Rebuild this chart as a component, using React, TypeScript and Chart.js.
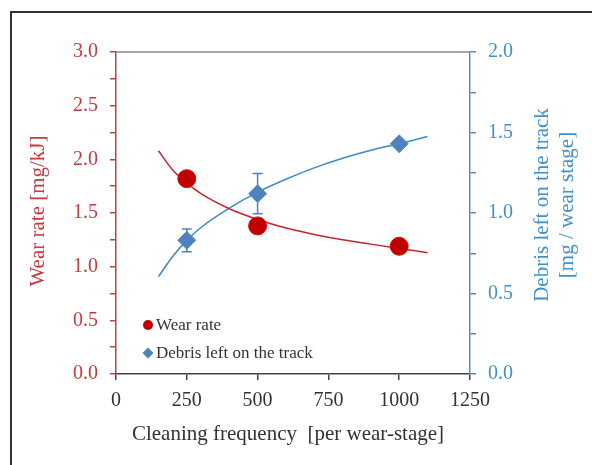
import React, { useEffect, useRef } from "react";
import { Chart, registerables } from "chart.js";

Chart.register(...registerables);

// ---- data ----
const cleaningFreq = [250, 500, 1000];
const wearRate = [1.82, 1.38, 1.19];
const debrisLeft = [0.83, 1.12, 1.43];
const debrisErr = [0.07, 0.125, 0.02];

const fitX = [150, 200, 250, 300, 400, 500, 600, 700, 800, 900, 1000, 1100];
const wearFit = [2.08, 1.9, 1.78, 1.68, 1.54, 1.44, 1.36, 1.3, 1.25, 1.21, 1.17, 1.13];
const debrisFit = [0.605, 0.73, 0.83, 0.91, 1.03, 1.13, 1.21, 1.28, 1.34, 1.39, 1.43, 1.475];

const leftTicks = [0, 0.5, 1, 1.5, 2, 2.5, 3];
const rightTicks = [0, 0.5, 1, 1.5, 2];
const xTicks = [0, 250, 500, 750, 1000, 1250];

const xTitle = "Cleaning frequency  [per wear-stage]";
const leftTitle = "Wear rate [mg/kJ]";
const rightTitle1 = "Debris left on the track";
const rightTitle2 = "[mg / wear stage]";
const legendLabels = ["Wear rate", "Debris left on the track"];

const SERIF = "'Liberation Serif', 'Times New Roman', serif";
const RED_MARK = "#C00000";
const RED_LINE = "#C8242E";
const RED_TEXT = "#C43B3E";
const BLUE_MARK = "#4F81BD";
const BLUE_LINE = "#3D8AC9";
const BLUE_TEXT = "#4090CC";

const decorPlugin = {
  id: "decor",
  beforeDraw(chart: any) {
    const ctx = chart.ctx;
    ctx.save();
    ctx.fillStyle = "#ffffff";
    ctx.fillRect(0, 0, chart.width, chart.height);
    ctx.strokeStyle = "#333333";
    ctx.lineWidth = 2;
    ctx.strokeRect(11, 12, chart.width + 40, chart.height + 40);
    ctx.restore();
  },
  beforeDatasetDraw(chart: any, args: any) {
    if (args.index !== 1) return;
    const ctx = chart.ctx;
    const xs = chart.scales.x;
    const ys = chart.scales.y1;
    ctx.save();
    ctx.strokeStyle = BLUE_MARK;
    ctx.lineWidth = 1.5;
    cleaningFreq.forEach((x, i) => {
      const px = xs.getPixelForValue(x);
      const top = ys.getPixelForValue(debrisLeft[i] + debrisErr[i]);
      const bot = ys.getPixelForValue(debrisLeft[i] - debrisErr[i]);
      ctx.beginPath();
      ctx.moveTo(px, top);
      ctx.lineTo(px, bot);
      ctx.moveTo(px - 5, top);
      ctx.lineTo(px + 5, top);
      ctx.moveTo(px - 5, bot);
      ctx.lineTo(px + 5, bot);
      ctx.stroke();
    });
    ctx.restore();
  },
  afterDraw(chart: any) {
    const ctx = chart.ctx;
    const a = chart.chartArea;
    ctx.save();
    // top frame line of plot
    ctx.strokeStyle = "#8a8a8a";
    ctx.lineWidth = 1.5;
    ctx.beginPath();
    ctx.moveTo(a.left, a.top);
    ctx.lineTo(a.right, a.top);
    ctx.stroke();

    // axis titles
    ctx.font = `21px ${SERIF}`;
    ctx.textAlign = "center";
    ctx.textBaseline = "middle";
    ctx.fillStyle = "#333333";
    ctx.fillText(xTitle, 288, 434);

    ctx.save();
    ctx.translate(38, 211);
    ctx.rotate(-Math.PI / 2);
    ctx.fillStyle = RED_TEXT;
    ctx.fillText(leftTitle, 0, 0);
    ctx.restore();

    ctx.save();
    ctx.translate(542, 205);
    ctx.rotate(-Math.PI / 2);
    ctx.fillStyle = BLUE_TEXT;
    ctx.fillText(rightTitle1, 0, 0);
    ctx.restore();

    ctx.save();
    ctx.translate(567, 205);
    ctx.rotate(-Math.PI / 2);
    ctx.fillStyle = BLUE_TEXT;
    ctx.fillText(rightTitle2, 0, 0);
    ctx.restore();

    // legend
    ctx.font = `17px ${SERIF}`;
    ctx.textAlign = "left";
    ctx.fillStyle = RED_MARK;
    ctx.beginPath();
    ctx.arc(148, 325, 5, 0, Math.PI * 2);
    ctx.fill();
    ctx.fillStyle = "#333333";
    ctx.fillText(legendLabels[0], 156, 326);

    ctx.fillStyle = BLUE_MARK;
    ctx.beginPath();
    ctx.moveTo(148, 347.5);
    ctx.lineTo(153.5, 353);
    ctx.lineTo(148, 358.5);
    ctx.lineTo(142.5, 353);
    ctx.closePath();
    ctx.fill();
    ctx.fillStyle = "#333333";
    ctx.fillText(legendLabels[1], 156, 354);
    ctx.restore();
  },
};

export default function App() {
  const ref = useRef<HTMLCanvasElement | null>(null);
  useEffect(() => {
    document.body.style.margin = "0";
    const canvas = ref.current;
    if (!canvas) return;
    const chart = new Chart(canvas, {
      type: "line",
      data: {
        datasets: [
          {
            label: legendLabels[0],
            data: cleaningFreq.map((x, i) => ({ x, y: wearRate[i] })),
            yAxisID: "y",
            showLine: false,
            pointStyle: "circle",
            pointRadius: 9,
            pointBackgroundColor: RED_MARK,
            pointBorderColor: "#D01010",
            pointBorderWidth: 1,
          },
          {
            label: legendLabels[1],
            data: cleaningFreq.map((x, i) => ({ x, y: debrisLeft[i] })),
            yAxisID: "y1",
            showLine: false,
            pointStyle: "rectRot",
            pointRadius: 9,
            pointBackgroundColor: BLUE_MARK,
            pointBorderColor: "#5A8CC8",
            pointBorderWidth: 1,
          },
          {
            label: "wear fit",
            data: fitX.map((x, i) => ({ x, y: wearFit[i] })),
            yAxisID: "y",
            borderColor: RED_LINE,
            borderWidth: 1.5,
            pointRadius: 0,
            cubicInterpolationMode: "monotone",
          },
          {
            label: "debris fit",
            data: fitX.map((x, i) => ({ x, y: debrisFit[i] })),
            yAxisID: "y1",
            borderColor: BLUE_LINE,
            borderWidth: 1.5,
            pointRadius: 0,
            cubicInterpolationMode: "monotone",
          },
        ],
      },
      options: {
        responsive: false,
        animation: false,
        layout: { padding: { top: 52, left: 0, right: 0, bottom: 0 } },
        plugins: { legend: { display: false }, tooltip: { enabled: false } },
        scales: {
          x: {
            type: "linear",
            min: 0,
            max: 1250,
            afterFit: (s: any) => {
              s.height = 91;
            },
            afterBuildTicks: (s: any) => {
              s.ticks = xTicks.map((v) => ({ value: v }));
            },
            ticks: {
              autoSkip: false,
              maxRotation: 0,
              padding: 9,
              color: "#333333",
              font: { family: SERIF, size: 20 },
              callback: (v: any) => String(v),
            },
            grid: { drawOnChartArea: false, drawTicks: true, tickLength: 6, tickColor: "#444444", lineWidth: 1.5 },
            border: { display: true, color: "#444444", width: 1.5 },
          },
          y: {
            type: "linear",
            position: "left",
            min: 0,
            max: 3,
            afterFit: (s: any) => {
              s.width = 116;
            },
            afterBuildTicks: (s: any) => {
              const t: any[] = [];
              for (let i = 0; i <= 12; i++) t.push({ value: i * 0.25 });
              s.ticks = t;
            },
            ticks: {
              autoSkip: false,
              padding: 12,
              color: RED_TEXT,
              font: { family: SERIF, size: 20 },
              callback: (v: any) => {
                const n = Number(v);
                return leftTicks.some((t) => Math.abs(t - n) < 1e-6) ? n.toFixed(1) : "";
              },
            },
            grid: { drawOnChartArea: false, drawTicks: true, tickLength: 6, tickColor: "#B04848", lineWidth: 1.5 },
            border: { display: true, color: "#B04848", width: 1.5 },
          },
          y1: {
            type: "linear",
            position: "right",
            min: 0,
            max: 2,
            afterFit: (s: any) => {
              s.width = 122;
            },
            afterBuildTicks: (s: any) => {
              const t: any[] = [];
              for (let i = 0; i <= 8; i++) t.push({ value: i * 0.25 });
              s.ticks = t;
            },
            ticks: {
              autoSkip: false,
              padding: 12,
              color: BLUE_TEXT,
              font: { family: SERIF, size: 20 },
              callback: (v: any) => {
                const n = Number(v);
                return rightTicks.some((t) => Math.abs(t - n) < 1e-6) ? n.toFixed(1) : "";
              },
            },
            grid: { drawOnChartArea: false, drawTicks: true, tickLength: 6, tickColor: "#5A8DB8", lineWidth: 1.5 },
            border: { display: true, color: "#5A8DB8", width: 1.5 },
          },
        },
      },
      plugins: [decorPlugin],
    } as any);
    return () => chart.destroy();
  }, []);
  return (
    <div style={{ width: 592, height: 465 }}>
      <canvas ref={ref} width={592} height={465} />
    </div>
  );
}
